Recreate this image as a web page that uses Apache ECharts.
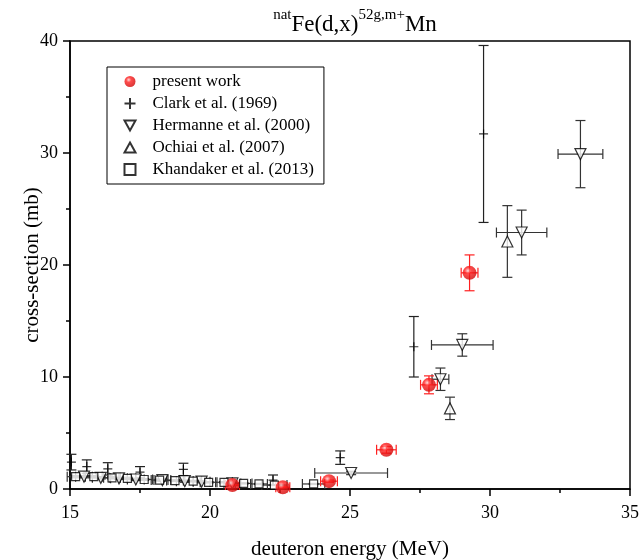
<!DOCTYPE html>
<html><head><meta charset="utf-8">
<script src="https://cdn.jsdelivr.net/npm/echarts@6/dist/echarts.min.js"></script>
<style>html,body{margin:0;padding:0;background:#fff}#c{width:639px;height:560px}</style>
</head><body><div id="c"></div>
<script>
// ---- data ----
const xTicks = [15, 20, 25, 30, 35];
const yTicks = [0, 10, 20, 30, 40];

const presentX    = [20.8, 22.6, 24.25, 26.3, 27.82, 29.27];
const presentY    = [0.35, 0.15, 0.7, 3.5, 9.3, 19.3];
const presentXErr = [0.25, 0.25, 0.3, 0.35, 0.3, 0.3];
const presentYErr = [0.05, 0.05, 0.1, 0.3, 0.8, 1.6];

const clarkX    = [15.05, 15.6, 16.35, 17.5, 19.05, 22.25, 24.65, 27.28, 29.77];
const clarkY    = [2.4, 2.0, 1.8, 1.5, 1.75, 0.8, 2.8, 12.7, 31.7];
const clarkYErr = [0.7, 0.6, 0.55, 0.5, 0.55, 0.45, 0.6, 2.7, 7.9];

const hermX    = [15.5, 16.1, 16.75, 17.35, 18.3, 19.1, 19.7, 20.8, 25.04, 28.23, 29.01, 31.13, 33.23];
const hermY    = [1.1, 1.0, 0.95, 0.85, 0.8, 0.7, 0.65, 0.5, 1.43, 9.8, 12.86, 22.9, 29.9];
const hermXErr = [0.3, 0.3, 0.3, 0.3, 0.3, 0.3, 0.3, 0.3, 1.3, 0.3, 1.1, 0.9, 0.8];
const hermYErr = [0.1, 0.1, 0.1, 0.1, 0.1, 0.1, 0.1, 0.1, 0.15, 1.0, 1.0, 2.0, 3.0];

const ochX    = [28.57, 30.62];
const ochY    = [7.2, 22.1];
const ochYErr = [1.0, 3.2];

const khanX    = [15.2, 15.85, 16.5, 17.05, 17.65, 18.2, 18.75, 19.4, 19.95, 20.5, 21.2, 21.75, 22.3, 23.7];
const khanY    = [1.1, 1.1, 1.0, 0.95, 0.85, 0.8, 0.75, 0.7, 0.6, 0.6, 0.5, 0.45, 0.35, 0.45];
const khanXErr = [0.3, 0.3, 0.3, 0.3, 0.3, 0.3, 0.3, 0.3, 0.3, 0.3, 0.3, 0.3, 0.45, 0.4];
const khanYErr = [0.1, 0.1, 0.1, 0.1, 0.08, 0.08, 0.08, 0.07, 0.06, 0.06, 0.05, 0.05, 0.04, 0.05];

const names = ['present work', 'Clark et al. (1969)', 'Hermanne et al. (2000)', 'Ochiai et al. (2007)', 'Khandaker et al. (2013)'];

// ---- helpers ----
function pts(xs, ys) { return xs.map((x, i) => [x, ys[i]]); }
function errs(xs, ys, xe, ye) { return xs.map((x, i) => [x, ys[i], xe ? xe[i] : 0, ye ? ye[i] : 0]); }
function errSeries(data, color) {
  return {
    type: 'custom', data: data, z: 1, silent: true,
    renderItem: function (params, api) {
      const x = api.value(0), y = api.value(1), xe = api.value(2), ye = api.value(3);
      const ch = [];
      const st = { stroke: color, lineWidth: 1.2, fill: null };
      const cap = 5;
      if (xe > 0) {
        const l = api.coord([x - xe, y]), r = api.coord([x + xe, y]);
        ch.push({ type: 'line', shape: { x1: l[0], y1: l[1], x2: r[0], y2: r[1] }, style: st });
        ch.push({ type: 'line', shape: { x1: l[0], y1: l[1] - cap, x2: l[0], y2: l[1] + cap }, style: st });
        ch.push({ type: 'line', shape: { x1: r[0], y1: r[1] - cap, x2: r[0], y2: r[1] + cap }, style: st });
      }
      if (ye > 0) {
        const t = api.coord([x, y + ye]), b = api.coord([x, y - ye]);
        ch.push({ type: 'line', shape: { x1: t[0], y1: t[1], x2: b[0], y2: b[1] }, style: st });
        ch.push({ type: 'line', shape: { x1: t[0] - cap, y1: t[1], x2: t[0] + cap, y2: t[1] }, style: st });
        ch.push({ type: 'line', shape: { x1: b[0] - cap, y1: b[1], x2: b[0] + cap, y2: b[1] }, style: st });
      }
      return { type: 'group', children: ch };
    }
  };
}

const sphere = { type: 'radial', x: 0.38, y: 0.35, r: 0.75,
  colorStops: [{ offset: 0, color: '#ffd0d0' }, { offset: 0.3, color: '#ff2020' }, { offset: 1, color: '#c80000' }] };
const plusPath = 'path://M5,0L5,10M0,5L10,5';
const downTri = 'path://M0,0L10,0L5,9Z';
const upTri = 'path://M5,0L10,9L0,9Z';
const FONT = 'Liberation Serif';

const chart = echarts.init(document.getElementById('c'));
chart.setOption({
  animation: false,
  backgroundColor: '#fff',
  title: {
    text: '{s|nat}{n|Fe(d,x)}{s|52g,m+}{n|Mn}',
    left: 350, textAlign: 'center', top: 3,
    textStyle: { fontWeight: 'normal', rich: {
      n: { fontFamily: FONT, fontSize: 23, fontWeight: 'normal', color: '#000', verticalAlign: 'bottom', lineHeight: 28 },
      s: { fontFamily: FONT, fontSize: 15, fontWeight: 'normal', color: '#000', verticalAlign: 'top', lineHeight: 28, padding: [0, 0, 12, 0] }
    } }
  },
  grid: { left: 70, right: 9, top: 41, bottom: 71, show: true, borderColor: '#000', borderWidth: 1.5, outerBoundsMode: 'none', containLabel: false },
  legend: {
    orient: 'vertical', left: 107, top: 67,
    backgroundColor: '#fff', borderColor: '#000', borderWidth: 1,
    padding: [6, 10, 6, 15], itemGap: 5, itemWidth: 11, itemHeight: 11,
    textStyle: { fontFamily: FONT, fontSize: 17, color: '#000', padding: [0, 0, 0, 12] },
    data: names
  },
  xAxis: {
    type: 'value', min: xTicks[0], max: xTicks[xTicks.length - 1], interval: 5,
    name: 'deuteron energy (MeV)', nameLocation: 'middle', nameGap: 50, nameMoveOverlap: false,
    nameTextStyle: { fontFamily: FONT, fontSize: 21, color: '#000' },
    axisLine: { lineStyle: { color: '#000', width: 1.5 } },
    axisTick: { inside: false, length: 7, lineStyle: { color: '#000', width: 1.5 } },
    minorTick: { show: true, splitNumber: 2, length: 4, lineStyle: { color: '#000', width: 1.5 } },
    axisLabel: { fontFamily: FONT, fontSize: 18, color: '#000', margin: 15 },
    splitLine: { show: false }
  },
  yAxis: {
    type: 'value', min: yTicks[0], max: yTicks[yTicks.length - 1], interval: 10,
    name: 'cross-section (mb)', nameLocation: 'middle', nameGap: 27, nameMoveOverlap: false,
    nameTextStyle: { fontFamily: FONT, fontSize: 21, color: '#000' },
    axisLine: { lineStyle: { color: '#000', width: 1.5 } },
    axisTick: { inside: false, length: 7, lineStyle: { color: '#000', width: 1.5 } },
    minorTick: { show: true, splitNumber: 2, length: 4, lineStyle: { color: '#000', width: 1.5 } },
    axisLabel: { fontFamily: FONT, fontSize: 18, color: '#000', margin: 12 },
    splitLine: { show: false }
  },
  series: [
    errSeries(errs(clarkX, clarkY, null, clarkYErr), '#222'),
    errSeries(errs(hermX, hermY, hermXErr, hermYErr), '#333'),
    errSeries(errs(ochX, ochY, null, ochYErr), '#333'),
    errSeries(errs(khanX, khanY, khanXErr, khanYErr), '#333'),
    errSeries(errs(presentX, presentY, presentXErr, presentYErr), '#ff2020'),
    { name: names[1], type: 'scatter', z: 3, data: pts(clarkX, clarkY), symbol: plusPath, symbolSize: 9,
      itemStyle: { color: 'none', borderColor: '#000', borderWidth: 1.2 } },
    { name: names[2], type: 'scatter', z: 3, data: pts(hermX, hermY), symbol: downTri, symbolSize: 11,
      itemStyle: { color: '#fff', borderColor: '#000', borderWidth: 1.2 } },
    { name: names[3], type: 'scatter', z: 3, data: pts(ochX, ochY), symbol: upTri, symbolSize: 11,
      itemStyle: { color: '#fff', borderColor: '#000', borderWidth: 1.2 } },
    { name: names[4], type: 'scatter', z: 3, data: pts(khanX, khanY), symbol: 'rect', symbolSize: 8,
      itemStyle: { color: '#fff', borderColor: '#000', borderWidth: 1.2 } },
    { name: names[0], type: 'scatter', z: 4, data: pts(presentX, presentY), symbol: 'circle', symbolSize: 14,
      itemStyle: { color: sphere } }
  ]
});
</script></body></html>
